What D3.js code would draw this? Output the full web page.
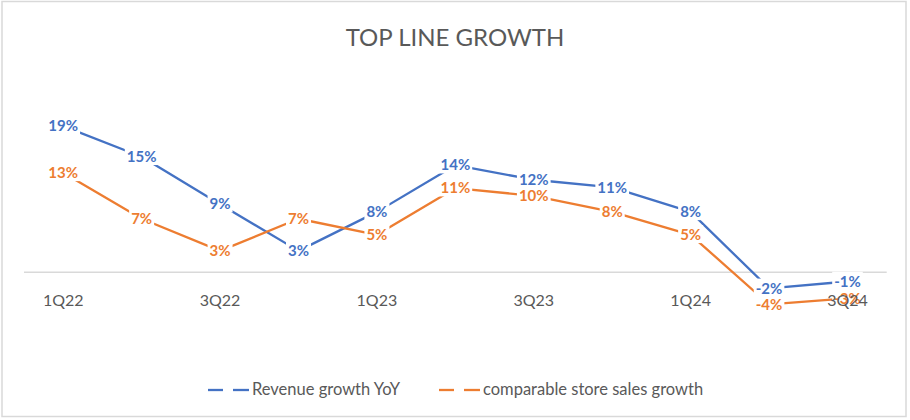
<!DOCTYPE html>
<html>
<head>
<meta charset="utf-8">
<script src="https://cdn.jsdelivr.net/npm/d3@7"></script>
<style>
	body { margin: 0; background: #fff; }
	text { font-family: Lato, "Open Sans", sans-serif; }
</style>
</head>
<body>
<div id="chart"></div>
<script>
const AREA_WIDTH = 910;
const AREA_HEIGHT = 420;

// quarters on the x axis
const quarters = ["1Q22", "2Q22", "3Q22", "4Q22", "1Q23", "2Q23", "3Q23", "4Q23", "1Q24", "2Q24", "3Q24"];
// values in percent
const revenueGrowth = [19.1, 15.1, 8.9, 2.8, 7.9, 14.0, 12.1, 11.1, 7.9, -2.1, -1.2];
const compStoreGrowth = [13.0, 7.0, 2.8, 7.0, 4.9, 11.0, 10.0, 7.9, 4.9, -4.2, -3.4];
const seriesNames = ["Revenue growth YoY", "comparable store sales growth"];
const seriesColors = ["#4472C4", "#ED7D31"];

const svg = d3.select("#chart")
	.append("svg")
		.attr("width", AREA_WIDTH)
		.attr("height", AREA_HEIGHT);

// chart border
svg.append("rect")
	.attr("x", 2)
	.attr("y", 1.5)
	.attr("width", 904)
	.attr("height", 415)
	.attr("fill", "#fff")
	.attr("stroke", "#d9d9d9")
	.attr("stroke-width", 1.5);

svg.append("text")
	.attr("x", 455)
	.attr("y", 46)
	.attr("text-anchor", "middle")
	.attr("font-size", 24)
	.attr("fill", "#595959")
	.text("TOP LINE GROWTH");

const x = d3.scaleBand()
	.domain(quarters)
	.range([24, 886.7]);

const y = d3.scaleLinear()
	.domain([-10, 25])
	.range([348.8, 81.05]);

const cx = q => x(q) + x.bandwidth() / 2;

// zero line
svg.append("line")
	.attr("x1", x.range()[0])
	.attr("x2", x.range()[1])
	.attr("y1", y(0))
	.attr("y2", y(0))
	.attr("stroke", "#d9d9d9")
	.attr("stroke-width", 1.5);

const series = [revenueGrowth, compStoreGrowth];

const line = d3.line()
	.x((d, i) => cx(quarters[i]))
	.y(d => y(d));

series.map((values, n) => {
	svg.append("path")
		.datum(values)
		.attr("d", line)
		.attr("fill", "none")
		.attr("stroke", seriesColors[n])
		.attr("stroke-width", 2.3)
		.attr("stroke-linejoin", "round");
});

// data labels with white box over the lines (orange first, blue on top)
[1, 0].map(n => {
	series[n].map((v, i) => {
		const g = svg.append("g");
		const t = g.append("text")
			.attr("x", cx(quarters[i]))
			.attr("y", y(v))
			.attr("dy", "0.35em")
			.attr("text-anchor", "middle")
			.attr("font-size", 15)
			.attr("font-weight", "bold")
			.attr("fill", seriesColors[n])
			.text(Math.round(v) + "%");
		const b = t.node().getBBox();
		g.insert("rect", "text")
			.attr("x", b.x - 2)
			.attr("y", b.y)
			.attr("width", b.width + 4)
			.attr("height", b.height)
			.attr("fill", "#fff");
	});
});

// category axis, every other label
const xAxis = d3.axisBottom(x)
	.tickValues(quarters.filter((q, i) => i % 2 == 0))
	.tickSize(0)
	.tickPadding(22);

const axisG = svg.append("g")
	.attr("transform", "translate(0," + y(0) + ")")
	.call(xAxis);
axisG.select(".domain").remove();
axisG.selectAll("text")
	.attr("font-family", "Lato, 'Open Sans', sans-serif")
	.attr("font-size", 16)
	.attr("fill", "#595959");

// legend
const legendX = [208, 439];
seriesNames.map((name, n) => {
	const lx = legendX[n];
	svg.append("line")
		.attr("x1", lx).attr("x2", lx + 15)
		.attr("y1", 390).attr("y2", 390)
		.attr("stroke", seriesColors[n])
		.attr("stroke-width", 2.3);
	svg.append("line")
		.attr("x1", lx + 25).attr("x2", lx + 41)
		.attr("y1", 390).attr("y2", 390)
		.attr("stroke", seriesColors[n])
		.attr("stroke-width", 2.3);
	svg.append("text")
		.attr("x", lx + 44)
		.attr("y", 395)
		.attr("font-size", 16.5)
		.attr("fill", "#595959")
		.text(name);
});
</script>
</body>
</html>
